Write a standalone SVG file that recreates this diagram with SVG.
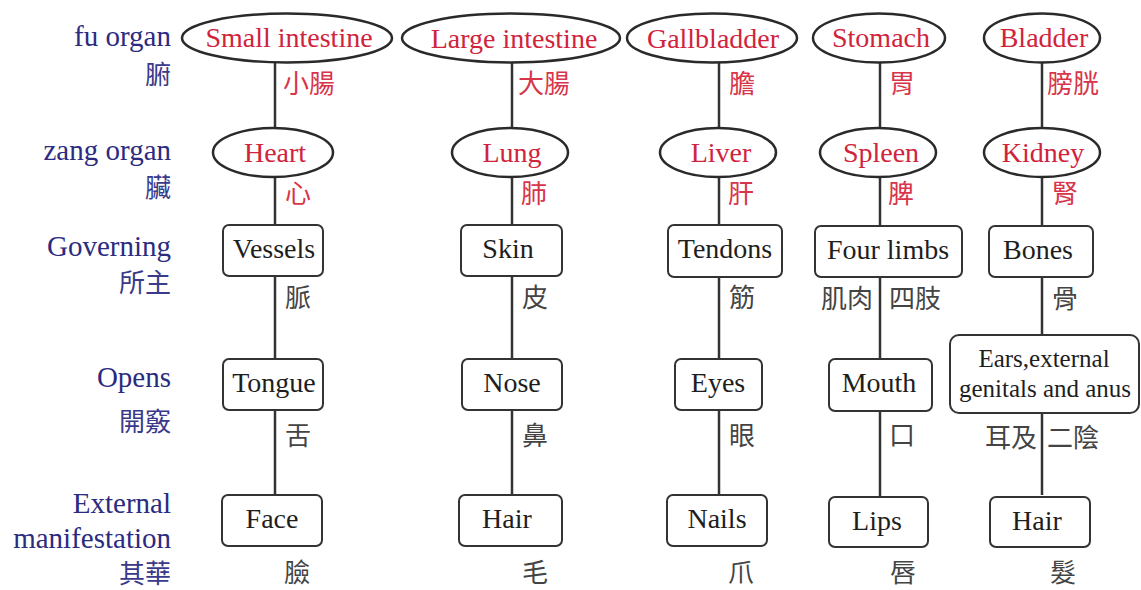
<svg xmlns="http://www.w3.org/2000/svg" width="1141" height="590" viewBox="0 0 1141 590">
<style>
.bg{fill:#ffffff}
.ell{fill:#ffffff;stroke:#2a2a2a;stroke-width:2.5}
.box{fill:#ffffff;stroke:#333333;stroke-width:2}
.con{stroke:#333333;stroke-width:2.5;fill:none}
.red{font-family:"Liberation Serif","Times New Roman",serif;font-size:28px;fill:#d0233c;text-anchor:middle}
.blk{font-family:"Liberation Serif","Times New Roman",serif;font-size:28px;fill:#1e1e1e;text-anchor:middle}
.ears{font-family:"Liberation Serif","Times New Roman",serif;font-size:25px;fill:#1e1e1e;text-anchor:middle}
.left{font-family:"Liberation Serif","Times New Roman",serif;font-size:29px;fill:#2b2b80;text-anchor:end}
.leftc{font-family:"Noto Sans CJK TC","Noto Sans CJK SC",sans-serif;font-size:26px;fill:#3a3a8a;text-anchor:end}
.rc{font-family:"Noto Sans CJK TC","Noto Sans CJK SC",sans-serif;font-size:26px;fill:#d8344a}
.gc{font-family:"Noto Sans CJK TC","Noto Sans CJK SC",sans-serif;font-size:26px;fill:#444444}
</style>
<rect class="bg" x="0" y="0" width="1141" height="590"/>

<g id="row-labels">
  <text class="left" x="171" y="46">fu organ</text>
  <text class="leftc" x="171" y="84">腑</text>
  <text class="left" x="171" y="160">zang organ</text>
  <text class="leftc" x="171" y="197">臟</text>
  <text class="left" x="171" y="256">Governing</text>
  <text class="leftc" x="171" y="292">所主</text>
  <text class="left" x="171" y="387">Opens</text>
  <text class="leftc" x="171" y="431">開竅</text>
  <text class="left" x="171" y="513">External</text>
  <text class="left" x="171" y="548">manifestation</text>
  <text class="leftc" x="171" y="583">其華</text>
</g>

<g id="connectors">
  <line class="con" x1="275" y1="62" x2="275" y2="128"/>
  <line class="con" x1="275" y1="177" x2="275" y2="225"/>
  <line class="con" x1="275" y1="276" x2="275" y2="359"/>
  <line class="con" x1="275" y1="410" x2="275" y2="495"/>

  <line class="con" x1="512" y1="63" x2="512" y2="128"/>
  <line class="con" x1="512" y1="177" x2="512" y2="225"/>
  <line class="con" x1="512" y1="276" x2="512" y2="359"/>
  <line class="con" x1="512" y1="410" x2="512" y2="495"/>

  <line class="con" x1="719" y1="63" x2="719" y2="128"/>
  <line class="con" x1="719" y1="177" x2="719" y2="225"/>
  <line class="con" x1="719" y1="277" x2="719" y2="359"/>
  <line class="con" x1="719" y1="410" x2="719" y2="495"/>

  <line class="con" x1="880" y1="62" x2="880" y2="128"/>
  <line class="con" x1="880" y1="177" x2="880" y2="226"/>
  <line class="con" x1="880" y1="277" x2="880" y2="359"/>
  <line class="con" x1="880" y1="411" x2="880" y2="497"/>

  <line class="con" x1="1042" y1="62" x2="1042" y2="128"/>
  <line class="con" x1="1042" y1="177" x2="1042" y2="226"/>
  <line class="con" x1="1042" y1="277" x2="1042" y2="335"/>
  <line class="con" x1="1042" y1="413" x2="1042" y2="495"/>
</g>

<!-- Column 1 -->
<g id="small-intestine">
  <ellipse class="ell" cx="287" cy="38" rx="105" ry="24.5"/>
  <text class="red" x="289" y="47">Small intestine</text>
  <text class="rc" x="283" y="93">小腸</text>
</g>
<g id="heart">
  <ellipse class="ell" cx="273" cy="152.5" rx="60" ry="24.5"/>
  <text class="red" x="275" y="162">Heart</text>
  <text class="rc" x="285" y="203">心</text>
</g>
<g id="vessels">
  <rect class="box" x="223" y="225" width="100" height="51" rx="6"/>
  <text class="blk" x="274" y="258">Vessels</text>
  <text class="gc" x="285" y="307">脈</text>
</g>
<g id="tongue">
  <rect class="box" x="223" y="359" width="100" height="51" rx="6"/>
  <text class="blk" x="274" y="392">Tongue</text>
  <text class="gc" x="285" y="445">舌</text>
</g>
<g id="face">
  <rect class="box" x="222" y="495" width="100" height="51" rx="6"/>
  <text class="blk" x="272" y="528">Face</text>
  <text class="gc" x="284" y="582">臉</text>
</g>

<!-- Column 2 -->
<g id="large-intestine">
  <ellipse class="ell" cx="511" cy="38" rx="109" ry="24.5"/>
  <text class="red" x="514" y="48">Large intestine</text>
  <text class="rc" x="518" y="93">大腸</text>
</g>
<g id="lung">
  <ellipse class="ell" cx="510" cy="152.5" rx="58" ry="24.5"/>
  <text class="red" x="512" y="162">Lung</text>
  <text class="rc" x="521" y="203">肺</text>
</g>
<g id="skin">
  <rect class="box" x="461" y="225" width="101" height="51" rx="6"/>
  <text class="blk" x="508" y="258">Skin</text>
  <text class="gc" x="522" y="307">皮</text>
</g>
<g id="nose">
  <rect class="box" x="462" y="359" width="100" height="51" rx="6"/>
  <text class="blk" x="512" y="392">Nose</text>
  <text class="gc" x="522" y="445">鼻</text>
</g>
<g id="hair-lung">
  <rect class="box" x="459" y="495" width="103" height="51" rx="6"/>
  <text class="blk" x="507" y="528">Hair</text>
  <text class="gc" x="522" y="582">毛</text>
</g>

<!-- Column 3 -->
<g id="gallbladder">
  <ellipse class="ell" cx="712" cy="38" rx="85" ry="24.5"/>
  <text class="red" x="713" y="48">Gallbladder</text>
  <text class="rc" x="729" y="93">膽</text>
</g>
<g id="liver">
  <ellipse class="ell" cx="718" cy="152.5" rx="58" ry="24.5"/>
  <text class="red" x="721" y="162">Liver</text>
  <text class="rc" x="728" y="203">肝</text>
</g>
<g id="tendons">
  <rect class="box" x="668" y="225" width="114" height="52" rx="6"/>
  <text class="blk" x="725" y="258">Tendons</text>
  <text class="gc" x="729" y="307">筋</text>
</g>
<g id="eyes">
  <rect class="box" x="675" y="359" width="87" height="51" rx="6"/>
  <text class="blk" x="718" y="392">Eyes</text>
  <text class="gc" x="729" y="445">眼</text>
</g>
<g id="nails">
  <rect class="box" x="667" y="495" width="100" height="51" rx="6"/>
  <text class="blk" x="717" y="528">Nails</text>
  <text class="gc" x="728" y="582">爪</text>
</g>

<!-- Column 4 -->
<g id="stomach">
  <ellipse class="ell" cx="879" cy="38" rx="66" ry="24.5"/>
  <text class="red" x="881" y="47">Stomach</text>
  <text class="rc" x="889" y="93">胃</text>
</g>
<g id="spleen">
  <ellipse class="ell" cx="878" cy="152.5" rx="58" ry="24.5"/>
  <text class="red" x="881" y="162">Spleen</text>
  <text class="rc" x="888" y="203">脾</text>
</g>
<g id="four-limbs">
  <rect class="box" x="815" y="226" width="147" height="51" rx="6"/>
  <text class="blk" x="888" y="259">Four limbs</text>
  <text class="gc" x="873" y="308" text-anchor="end">肌肉</text>
  <text class="gc" x="889" y="308">四肢</text>
</g>
<g id="mouth">
  <rect class="box" x="829" y="359" width="103" height="52" rx="6"/>
  <text class="blk" x="879" y="392">Mouth</text>
  <text class="gc" x="889" y="445">口</text>
</g>
<g id="lips">
  <rect class="box" x="829" y="497" width="99" height="50" rx="6"/>
  <text class="blk" x="877" y="530">Lips</text>
  <text class="gc" x="890" y="582">唇</text>
</g>

<!-- Column 5 -->
<g id="bladder">
  <ellipse class="ell" cx="1042" cy="38" rx="58" ry="24.5"/>
  <text class="red" x="1044" y="47">Bladder</text>
  <text class="rc" x="1047" y="93">膀胱</text>
</g>
<g id="kidney">
  <ellipse class="ell" cx="1042" cy="152.5" rx="58" ry="24.5"/>
  <text class="red" x="1043" y="162">Kidney</text>
  <text class="rc" x="1052" y="203">腎</text>
</g>
<g id="bones">
  <rect class="box" x="989" y="226" width="104" height="51" rx="6"/>
  <text class="blk" x="1038" y="259">Bones</text>
  <text class="gc" x="1052" y="308">骨</text>
</g>
<g id="ears">
  <rect class="box" x="950" y="335" width="189" height="78" rx="9"/>
  <text class="ears" x="1044" y="367">Ears,external</text>
  <text class="ears" x="1045" y="397">genitals and anus</text>
  <text class="gc" x="1037" y="447" text-anchor="end">耳及</text>
  <text class="gc" x="1047" y="447">二陰</text>
</g>
<g id="hair-kidney">
  <rect class="box" x="990" y="497" width="100" height="50" rx="6"/>
  <text class="blk" x="1037" y="530">Hair</text>
  <text class="gc" x="1050" y="582">髮</text>
</g>
</svg>
